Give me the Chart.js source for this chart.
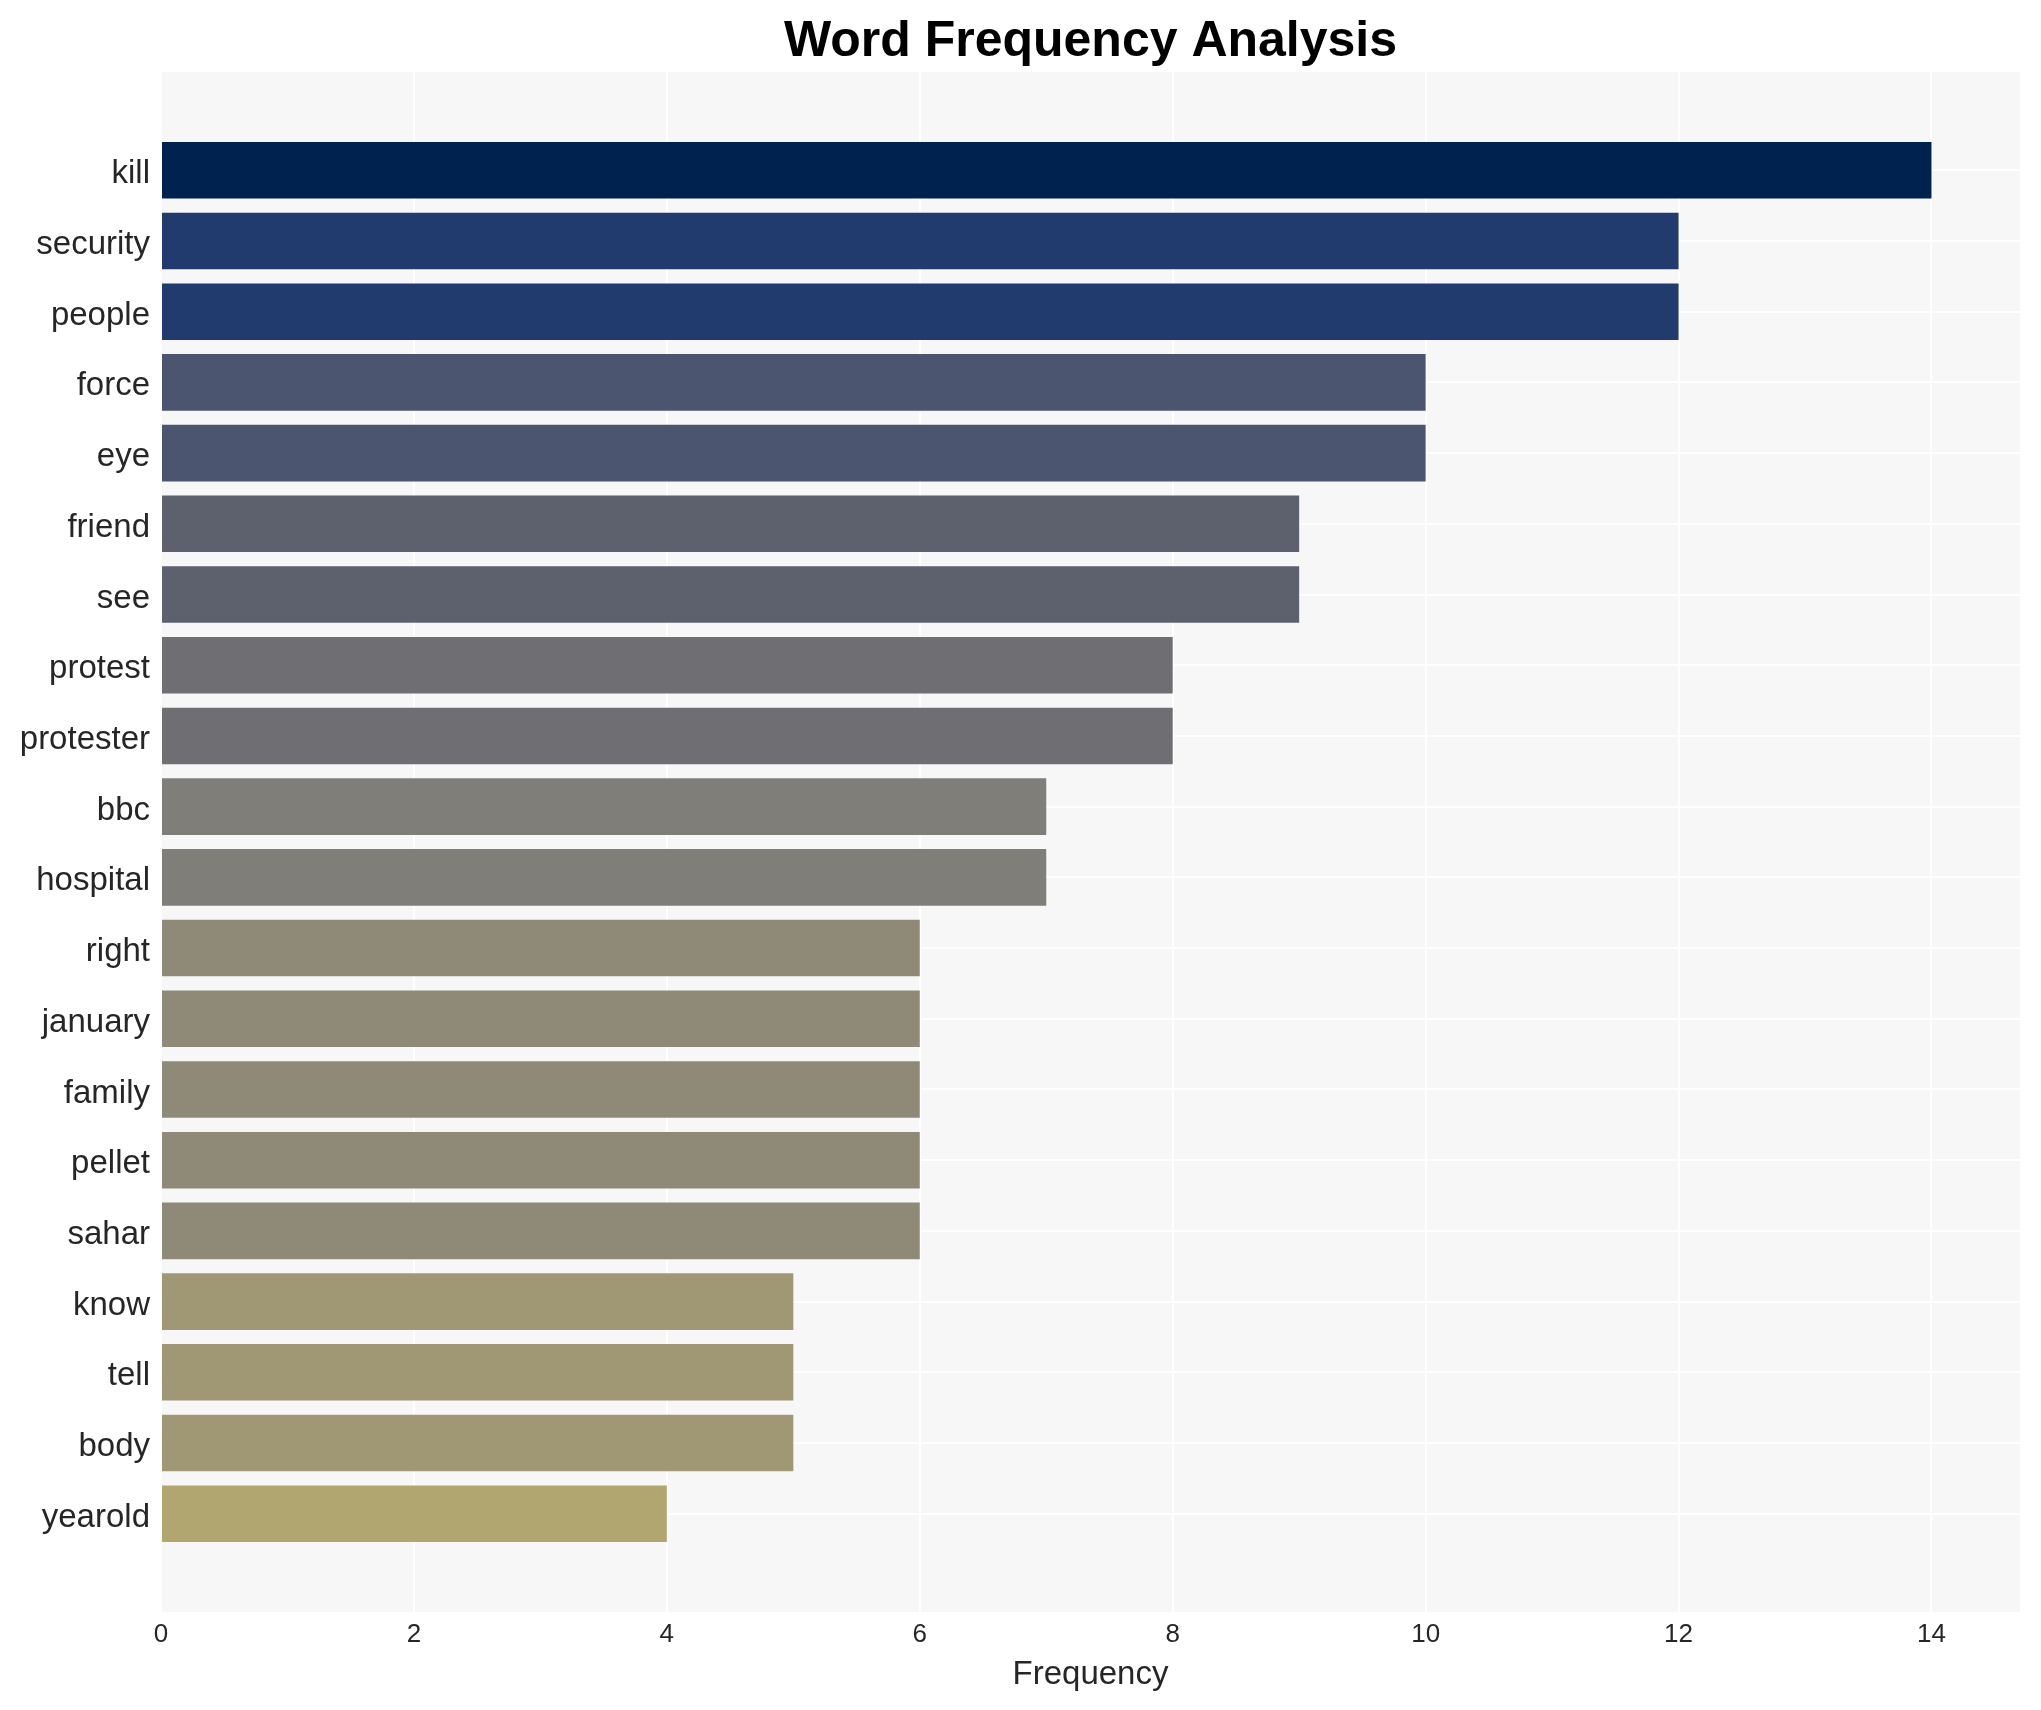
<!DOCTYPE html>
<html>
<head>
<meta charset="utf-8">
<script src="https://cdn.jsdelivr.net/npm/chart.js@4"></script>
<style>
  html, body { margin: 0; padding: 0; background: #ffffff; }
  #wrap { width: 2041px; height: 1710px; }
</style>
</head>
<body>
<div id="wrap"><canvas id="chart" width="2041" height="1710"></canvas></div>
<script>
const words = ["kill", "security", "people", "force", "eye", "friend", "see", "protest", "protester", "bbc",
  "hospital", "right", "january", "family", "pellet", "sahar", "know", "tell", "body", "yearold"];
const counts = [14, 12, 12, 10, 10, 9, 9, 8, 8, 7, 7, 6, 6, 6, 6, 6, 5, 5, 5, 4];
const xTicks = [0, 2, 4, 6, 8, 10, 12, 14];

// colour per count, cividis-like
const countColors = {
  14: "#00224e", 12: "#213b6e", 10: "#4b556f", 9: "#5d616e", 8: "#6f6f73",
  7: "#7f7e78", 6: "#8f8a77", 5: "#a09875", 4: "#b1a570"
};

const FONT = "'Liberation Sans', Arial, Helvetica, sans-serif";
const TEXT = "#262626";

const plotBackground = {
  id: "plotBackground",
  beforeDraw(chart) {
    const { ctx, chartArea: a } = chart;
    ctx.save();
    ctx.fillStyle = "#f7f7f7";
    ctx.fillRect(a.left, a.top, a.right - a.left, a.bottom - a.top);
    ctx.restore();
  }
};

const plotTitle = {
  id: "plotTitle",
  afterDraw(chart) {
    const { ctx, chartArea: a } = chart;
    ctx.save();
    ctx.fillStyle = "#000000";
    ctx.font = "bold 50px " + FONT;
    ctx.textAlign = "center";
    ctx.textBaseline = "alphabetic";
    ctx.fillText("Word Frequency Analysis", (a.left + a.right) / 2, 56);
    ctx.restore();
  }
};

new Chart(document.getElementById("chart"), {
  type: "bar",
  data: {
    datasets: [{
      data: counts.map((c, i) => ({ x: c, y: i })),
      backgroundColor: counts.map((c) => countColors[c]),
      borderWidth: 0,
      barPercentage: 0.8,
      categoryPercentage: 1.0
    }]
  },
  options: {
    indexAxis: "y",
    responsive: false,
    animation: false,
    devicePixelRatio: 1,
    layout: { padding: { top: 72, right: 21, left: 0, bottom: 0 } },
    plugins: {
      legend: { display: false },
      title: { display: false },
      tooltip: { enabled: false }
    },
    scales: {
      x: {
        type: "linear",
        position: "bottom",
        min: 0,
        max: 14.7,
        afterBuildTicks(scale) { scale.ticks = xTicks.map((v) => ({ value: v })); },
        afterFit(scale) { scale.height = 98; },
        grid: { color: "#ffffff", lineWidth: 2, drawTicks: false },
        border: { display: false },
        ticks: { color: TEXT, font: { family: FONT, size: 26 }, padding: 7 },
        title: {
          display: true,
          text: "Frequency",
          color: TEXT,
          font: { family: FONT, size: 33 },
          padding: { top: 0, bottom: 15 }
        }
      },
      y: {
        type: "linear",
        position: "left",
        reverse: true,
        offset: false,
        min: -1.39,
        max: words.length - 1 + 1.39,
        afterBuildTicks(scale) { scale.ticks = words.map((w, i) => ({ value: i })); },
        afterFit(scale) { scale.width = 161; },
        grid: { color: "#ffffff", lineWidth: 2, drawTicks: false, offset: false },
        border: { display: false },
        ticks: {
          color: TEXT,
          font: { family: FONT, size: 33 },
          padding: 11,
          labelOffset: 4,
          autoSkip: false,
          callback: (v) => words[v]
        }
      }
    }
  },
  plugins: [plotBackground, plotTitle]
});
</script>
</body>
</html>
